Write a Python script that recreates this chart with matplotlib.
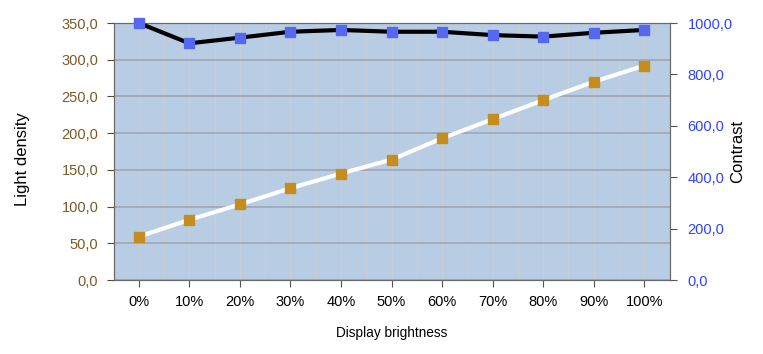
import matplotlib
matplotlib.use("Agg")
import matplotlib.pyplot as plt
from matplotlib.ticker import FuncFormatter, MultipleLocator

# data
brightness = ["0%", "10%", "20%", "30%", "40%", "50%", "60%", "70%", "80%", "90%", "100%"]
light_density = [59, 82, 103, 125, 145, 164, 193, 219, 245, 270, 292]
contrast = [1000, 921, 943, 966, 973, 966, 966, 953, 947, 962, 973]

plt.rcParams['font.family'] = ['Liberation Sans', 'DejaVu Sans']

comma = FuncFormatter(lambda v, p: f"{v:.1f}".replace('.', ','))

fig = plt.figure(figsize=(7.63, 3.54), dpi=100)
ax = fig.add_axes([0.1488, 0.209, 0.7287, 0.726])
ax.set_facecolor('#b8cce4')
x = list(range(len(brightness)))

# vertical light grid at half steps
for i in range(len(brightness) + 1):
    ax.axvline(i - 0.5, color='#c9cdd4', lw=1, zorder=0)
    if i < len(brightness):
        ax.axvline(i, color='#c9cdd4', lw=1, zorder=0)
ax.yaxis.set_major_locator(MultipleLocator(50))
ax.grid(axis='y', color='#9ea6b2', lw=1.2, zorder=0)
ax.set_axisbelow(True)

ax.plot(x, light_density, color='white', lw=3, marker='s', ms=7,
        mfc='#c48d1e', mec='#c48d1e', zorder=3)
ax.set_xlim(-0.5, 10.5)
ax.set_ylim(0, 350)
ax.set_xticks(x)
ax.set_xticklabels(brightness)
ax.yaxis.set_major_formatter(comma)
ax.tick_params(axis='y', colors='#5a4a2a', labelcolor='#7a5a26', labelsize=10.5, length=5, pad=6)
ax.tick_params(axis='x', colors='#555555', labelcolor='black', labelsize=10.5, length=5, pad=6)
for s in ax.spines.values():
    s.set_color('#6a6a6a')

ax2 = ax.twinx()
ax2.plot(x, contrast, color='black', lw=3, marker='s', ms=7,
         mfc='#5468f0', mec='#5468f0', zorder=4, clip_on=False)
ax2.set_ylim(0, 1000)
ax2.yaxis.set_major_locator(MultipleLocator(200))
ax2.yaxis.set_major_formatter(comma)
ax2.tick_params(axis='y', colors='#555555', labelcolor='#2f45f0', labelsize=10.5, length=5, pad=8)
for s in ax2.spines.values():
    s.set_color('#6a6a6a')

fig.text(0.029, 0.551, "Light density", rotation=90, ha='center', va='center', fontsize=12)
fig.text(0.967, 0.571, "Contrast", rotation=90, ha='center', va='center', fontsize=12)
fig.text(0.513, 0.059, "Display brightness", ha='center', va='center', fontsize=9.8)

fig.savefig("out.png", dpi=100)
